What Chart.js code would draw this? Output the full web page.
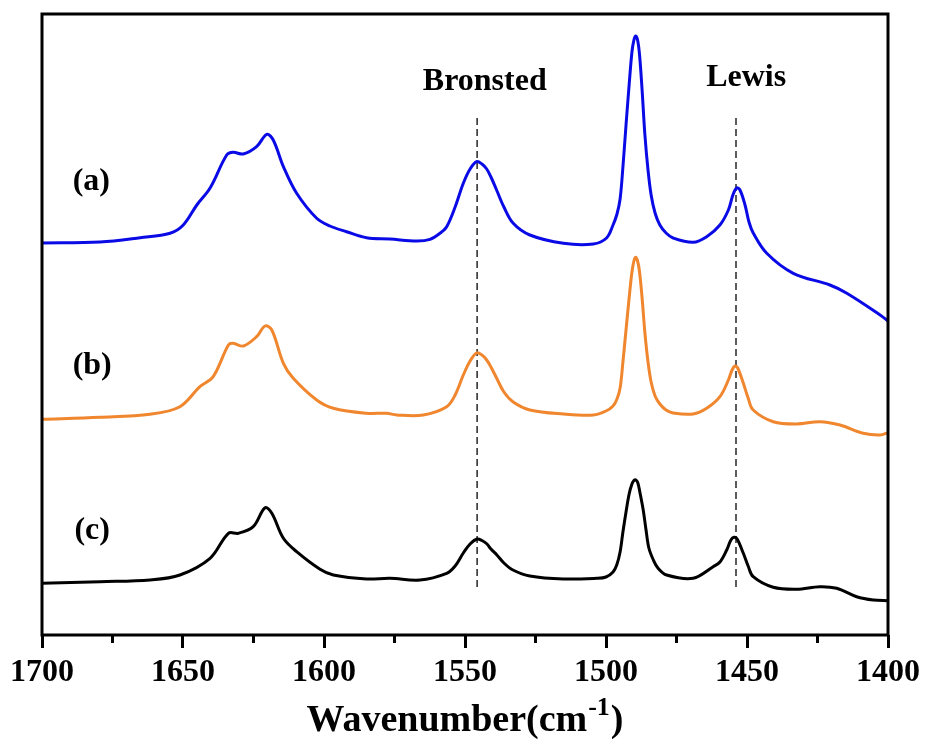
<!DOCTYPE html>
<html>
<head>
<meta charset="utf-8">
<script src="https://cdn.jsdelivr.net/npm/chart.js@4.4.1/dist/chart.umd.min.js"></script>
<style>
  html, body { margin: 0; padding: 0; background: #ffffff; }
  #wrap { width: 927px; height: 751px; position: relative; }
</style>
</head>
<body>
<div id="wrap"><canvas id="c"></canvas></div>
<script>
// ---- Data ----
const waveA = [1700.0,1679.4,1665.2,1654.6,1649.9,1645.1,1640.4,1634.5,1632.2,1628.6,1623.9,1620.3,1618.0,1614.4,1609.7,1602.6,1597.9,1592.0,1584.9,1576.6,1567.1,1562.4,1558.9,1556.5,1553.5,1550.6,1548.2,1545.9,1544.0,1542.3,1540.8,1538.8,1536.2,1532.9,1527.0,1515.1,1504.5,1499.8,1497.5,1496.1,1495.0,1494.0,1492.9,1491.8,1490.8,1490.1,1489.5,1488.8,1488.1,1487.2,1486.2,1485.1,1484.0,1482.6,1480.9,1478.7,1476.2,1469.1,1464.3,1459.6,1456.6,1455.0,1453.7,1452.5,1450.7,1449.3,1447.8,1443.0,1433.6,1420.6,1414.6,1402.8,1400.0];
const absA  = [390,391,395.3,399.7,408,428,445,478,480.7,479,486.3,498.7,493,466.3,439.7,414.7,407,401.3,395.3,394,392,393.7,399.7,406.3,426,449.7,464,471.3,469,464,456,443,426,409.7,398,389.7,389,395,408,419,434,466,508,548,581,593,597,593,578,543,498,463,438,420,408,400,395,390.7,396.3,408,423,438,445,443,428,411,400,379.7,359.7,348,339.7,318,312];

const waveB = [1700.0,1679.4,1661.7,1651.1,1644.0,1639.3,1633.9,1632.2,1628.6,1623.9,1620.9,1618.5,1614.4,1610.9,1602.6,1596.7,1584.9,1577.8,1574.2,1564.8,1556.5,1553.5,1550.6,1548.2,1545.9,1544.0,1542.3,1540.8,1538.8,1536.2,1532.9,1527.0,1515.1,1504.5,1500.0,1497.5,1496.1,1495.0,1494.0,1492.9,1491.8,1490.8,1490.1,1489.5,1488.8,1488.1,1487.2,1486.2,1485.1,1484.0,1482.6,1480.9,1478.7,1476.2,1469.1,1464.3,1459.6,1456.6,1455.3,1454.3,1453.3,1451.3,1449.6,1447.8,1440.7,1432.4,1424.2,1417.0,1408.8,1402.8,1400.0];
const absB  = [213.7,215.7,218.7,226.3,246.3,256.3,288,289.7,287,296.3,307,303,269.7,254.7,233,224.7,219.7,219.7,218,218,226.3,238,258,272,280,278,273,266,255,241,231,223,219,218,222,227,234,245,271,303,335,361,372,375.7,372,361,335,300,271,251,237,229,223,220,219,224.7,236.3,253,263,267,265,249.7,235,223,211.3,209,211.3,208,199.7,198,200.3];

const waveC = [1700.0,1679.4,1661.7,1651.1,1640.4,1633.9,1630.4,1625.1,1620.9,1618.5,1614.4,1609.7,1601.4,1596.7,1584.9,1576.6,1566.0,1556.5,1553.5,1550.6,1548.2,1545.7,1544.0,1542.2,1540.8,1538.7,1536.2,1533.0,1527.0,1515.2,1503.3,1500.0,1497.5,1496.2,1495.0,1494.0,1492.9,1491.8,1490.8,1490.1,1489.4,1488.7,1488.0,1486.8,1485.8,1484.8,1483.2,1481.6,1478.5,1469.1,1462.0,1459.6,1457.2,1455.7,1454.6,1453.5,1451.3,1449.6,1447.8,1440.7,1432.4,1424.2,1418.2,1411.1,1405.2,1400.0];
const absC  = [49.7,51.3,53,58,74.7,99.7,99.7,106.3,125.3,119.7,94.7,81.3,63.7,58,54,54.7,53,59.7,67,80,89,94,92.5,89,84,78,70,63,57,54,54.7,56,61,68,81,101,121,139,149,152.5,153,150,141,123,103,85,73,65,58,54.7,66.3,71,83,93,95.7,94,79.7,67,56.3,45.7,43.7,46.3,44.7,36.3,33,32.3];

const seriesLabels = ['(a)', '(b)', '(c)'];
const markerNames  = ['Bronsted', 'Lewis'];
const markerWave   = [1545.7, 1453.9];
const markerSpan   = [46, 515];     // value range covered by each dashed guide
const xTickLabels  = ['1700','1650','1600','1550','1500','1450','1400'];
const xAxisTitle   = 'Wavenumber(cm';
const xAxisTitleSup = '-1';

// ---- Build datasets ----
const toXY = (xs, ys) => xs.map((x, i) => ({ x: x, y: ys[i] }));
const seriesColors = ['#0a0ae6', '#f0862e', '#000000'];
const curves = [[waveA, absA], [waveB, absB], [waveC, absC]].map((s, i) => ({
  label: seriesLabels[i],
  data: toXY(s[0], s[1]),
  borderColor: seriesColors[i],
  borderWidth: 3,
  pointRadius: 0,
  fill: false,
  tension: 0.35
}));
const guides = markerWave.map((w, i) => ({
  label: markerNames[i],
  data: [{ x: w, y: markerSpan[0] }, { x: w, y: markerSpan[1] }],
  borderColor: '#333333',
  borderWidth: 1.6,
  borderDash: [7, 4],
  pointRadius: 0,
  fill: false
}));

const SERIF = "'Liberation Serif', 'Times New Roman', serif";

// text annotations placed in data coordinates
const annotations = [
  { text: seriesLabels[0], x: 1682.5, y: 451 },
  { text: seriesLabels[1], x: 1682.2, y: 267 },
  { text: seriesLabels[2], x: 1682.2, y: 102 },
  { text: markerNames[0], x: 1543.0, y: 551 },
  { text: markerNames[1], x: 1450.3, y: 555 }
];

const framePlugin = {
  id: 'frame',
  afterDraw(chart) {
    const ctx = chart.ctx, a = chart.chartArea, xs = chart.scales.x, ys = chart.scales.y;
    ctx.save();
    ctx.strokeStyle = '#000';
    ctx.lineWidth = 3;
    ctx.strokeRect(a.left, a.top, a.right - a.left, a.bottom - a.top);
    // minor ticks
    xs.ticks.forEach(t => {
      if (t.value % 50 !== 0) {
        const px = xs.getPixelForValue(t.value);
        ctx.beginPath();
        ctx.moveTo(px, a.bottom);
        ctx.lineTo(px, a.bottom + 8);
        ctx.stroke();
      }
    });
    // annotations
    ctx.fillStyle = '#000';
    ctx.font = 'bold 32px ' + SERIF;
    ctx.textAlign = 'center';
    ctx.textBaseline = 'middle';
    annotations.forEach(an => {
      ctx.fillText(an.text, xs.getPixelForValue(an.x), ys.getPixelForValue(an.y));
    });
    // axis title with superscript
    const mainFont = 'bold 38px ' + SERIF;
    const supFont = 'bold 26px ' + SERIF;
    ctx.textAlign = 'left';
    ctx.textBaseline = 'alphabetic';
    ctx.font = mainFont;
    const w1 = ctx.measureText(xAxisTitle).width;
    const w3 = ctx.measureText(')').width;
    ctx.font = supFont;
    const w2 = ctx.measureText(xAxisTitleSup).width;
    const total = w1 + w2 + w3 + 2;
    const cx = (a.left + a.right) / 2;
    const x0 = cx - total / 2;
    const base = a.bottom + 96;
    ctx.font = mainFont;
    ctx.fillText(xAxisTitle, x0, base);
    ctx.font = supFont;
    ctx.fillText(xAxisTitleSup, x0 + w1 + 1, base - 16);
    ctx.font = mainFont;
    ctx.fillText(')', x0 + w1 + w2 + 2, base);
    ctx.restore();
  }
};

new Chart(document.getElementById('c'), {
  type: 'line',
  data: { datasets: curves.concat(guides) },
  options: {
    responsive: true,
    maintainAspectRatio: false,
    animation: false,
    events: [],
    layout: { padding: { left: 42, right: 39, top: 14, bottom: 0 } },
    plugins: { legend: { display: false }, tooltip: { enabled: false } },
    scales: {
      x: {
        type: 'linear',
        reverse: true,
        min: 1400,
        max: 1700,
        afterFit: (scale) => { scale.height = 116; },
        border: { display: false },
        grid: {
          drawOnChartArea: false,
          drawTicks: true,
          tickLength: 13,
          tickWidth: 3,
          tickColor: ctx => (ctx.tick && ctx.tick.value % 50 === 0) ? '#000' : 'rgba(0,0,0,0)'
        },
        ticks: {
          stepSize: 25,
          autoSkip: false,
          maxRotation: 0,
          padding: 6,
          color: '#000',
          font: { family: SERIF, size: 32, weight: 'bold' },
          callback: (v) => {
            const idx = xTickLabels.indexOf(String(v));
            return idx >= 0 ? xTickLabels[idx] : '';
          }
        }
      },
      y: {
        display: false,
        min: -2,
        max: 619
      }
    }
  },
  plugins: [framePlugin]
});
</script>
</body>
</html>
